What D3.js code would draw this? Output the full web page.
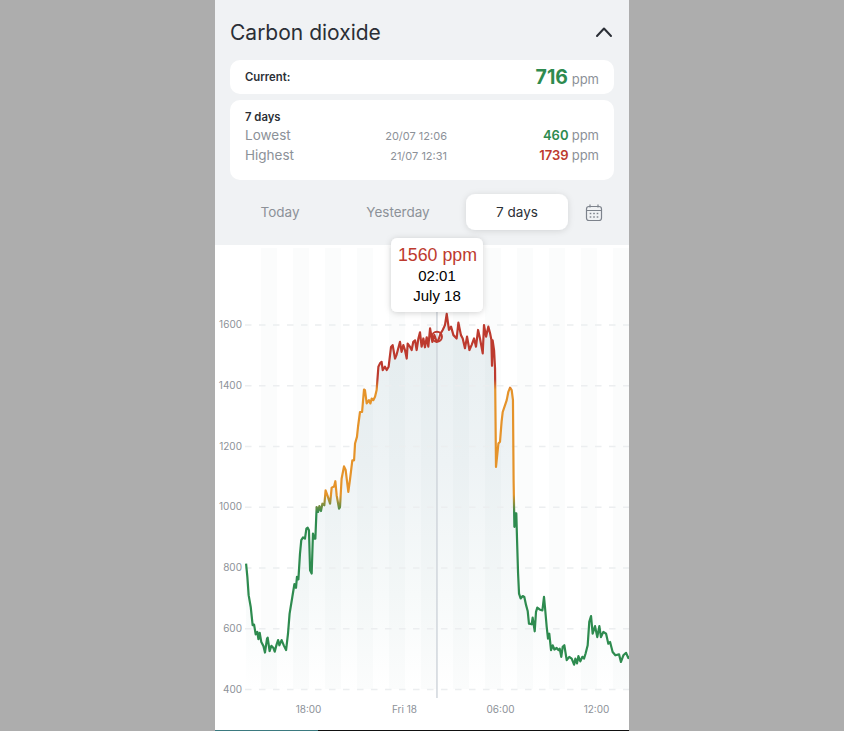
<!DOCTYPE html>
<html><head><meta charset="utf-8">
<script src="https://cdn.jsdelivr.net/npm/d3@7"></script>
<style>html,body{margin:0;padding:0;background:#adadad;overflow:hidden}svg{display:block}text{font-family:Inter,"Noto Sans",sans-serif}</style>
</head><body><svg id="c" width="844" height="731"></svg>
<script>
// hours counted from Thu 00:00 (24 = Fri 18 00:00)
const hours=[14.13,14.21,14.29,14.42,14.54,14.63,14.73,14.83,14.90,14.98,15.08,15.21,15.31,15.44,15.48,15.60,15.71,15.83,15.92,16.04,16.13,16.21,16.35,16.50,16.63,16.75,16.85,17.02,17.15,17.25,17.31,17.40,17.50,17.58,17.69,17.81,17.90,17.98,18.06,18.13,18.23,18.31,18.38,18.46,18.54,18.63,18.71,18.81,18.90,19.02,19.10,19.23,19.38,19.48,19.63,19.71,19.79,19.94,20.00,20.10,20.25,20.35,20.52,20.63,20.77,20.88,20.94,21.06,21.13,21.25,21.38,21.50,21.56,21.67,21.81,21.90,21.98,22.08,22.19,22.29,22.40,22.50,22.60,22.67,22.81,22.92,23.04,23.19,23.29,23.44,23.54,23.75,23.85,23.96,24.06,24.17,24.23,24.38,24.48,24.58,24.69,24.79,24.90,25.00,25.10,25.21,25.31,25.42,25.52,25.63,25.77,25.90,26.04,26.15,26.29,26.42,26.56,26.67,26.81,26.94,27.09,27.29,27.40,27.56,27.67,27.81,27.94,28.09,28.23,28.38,28.50,28.63,28.75,28.92,29.00,29.13,29.27,29.38,29.46,29.50,29.54,29.63,29.69,29.75,29.90,30.00,30.10,30.17,30.31,30.42,30.52,30.63,30.73,30.81,30.85,30.90,30.96,31.02,31.06,31.13,31.19,31.29,31.42,31.52,31.63,31.73,31.81,31.98,32.04,32.17,32.25,32.33,32.50,32.65,32.75,32.81,32.92,33.00,33.08,33.19,33.29,33.40,33.54,33.65,33.73,33.83,33.92,34.02,34.17,34.33,34.48,34.63,34.71,34.81,34.90,35.02,35.15,35.25,35.35,35.48,35.58,35.69,35.79,35.94,36.08,36.21,36.31,36.46,36.63,36.77,36.88,37.04,37.21,37.44,37.56,37.71,37.88,38.02,38.13];
const ppm=[813,769,709,670,610,612,580,588,564,585,555,542,520,566,569,525,542,536,523,547,561,544,561,542,528,582,648,703,745,733,769,761,846,890,899,895,928,931,923,791,780,912,895,895,999,983,1002,986,1010,1005,1054,1035,1010,1063,1067,1084,1038,994,999,1092,1133,1122,1049,1092,1153,1153,1208,1230,1265,1312,1312,1386,1384,1340,1351,1340,1356,1351,1362,1384,1461,1472,1477,1450,1461,1450,1461,1526,1532,1488,1501,1543,1510,1532,1516,1488,1537,1526,1516,1543,1548,1516,1554,1574,1527,1554,1525,1558,1527,1587,1543,1565,1543,1549,1571,1582,1598,1635,1582,1593,1565,1554,1606,1565,1554,1522,1560,1516,1533,1554,1527,1582,1554,1505,1598,1560,1593,1571,1550,1464,1548,1515,1455,1131,1208,1214,1280,1312,1334,1351,1378,1392,1384,1351,1087,934,978,978,901,780,714,698,706,703,676,657,615,613,635,590,654,668,661,659,703,670,604,566,582,528,544,530,535,528,533,506,539,544,495,506,500,480,500,484,508,491,506,500,517,544,621,640,582,607,571,607,571,588,582,549,555,522,511,514,489,511,519,502,508];
const yTicks=[400,600,800,1000,1200,1400,1600];
const xTicks=[18,24,30,36];
const xTickLabels=["18:00","Fri 18","06:00","12:00"];
const stripeStarts=[15.06,17.06,19.06,21.06,23.06,25.06,27.06,29.06,31.06,33.06,35.06,37.06];
const cursorHour=26.06, cursorPpm=1560;
const tooltipLines=["1560 ppm","02:01","July 18"];
const lowRow=["Lowest","20/07 12:06","460"], highRow=["Highest","21/07 12:31","1739"];
const tabs=["Today","Yesterday","7 days"];

const GREEN="#2e8b4f",ORANGE="#e5932a",RED="#bd3a2e",GREY="#8c9198",INK="#2b2f36";
const svg=d3.select("#c");
const x=d3.scaleLinear().domain([18,36]).range([308,596]);
const y=d3.scaleLinear().domain([400,1600]).range([689,324.5]);
const defs=svg.append("defs");
const shadow=(id,dy,sd,op)=>defs.append("filter").attr("id",id).attr("x","-30%").attr("y","-30%").attr("width","160%").attr("height","170%")
 .append("feDropShadow").attr("dx",0).attr("dy",dy).attr("stdDeviation",sd).attr("flood-color","#000").attr("flood-opacity",op);
shadow("sh1",1,3,.18);shadow("sh2",1,3,.13);
const lg=defs.append("linearGradient").attr("id","lineG").attr("gradientUnits","userSpaceOnUse").attr("x1",0).attr("x2",0).attr("y1",y(400)).attr("y2",y(1600));
[[980,GREEN],[1040,ORANGE],[1385,ORANGE],[1420,RED]].forEach(([v,c])=>lg.append("stop").attr("offset",(v-400)/1200).attr("stop-color",c));
const ag=defs.append("linearGradient").attr("id","areaG").attr("gradientUnits","userSpaceOnUse").attr("x1",0).attr("x2",0).attr("y1",y(1640)).attr("y2",y(400));
ag.append("stop").attr("offset",0).attr("stop-color","#e8eff1");ag.append("stop").attr("offset",.4).attr("stop-color","#eef3f5");ag.append("stop").attr("offset",.75).attr("stop-color","#f7fafa");ag.append("stop").attr("offset",1).attr("stop-color","#ffffff");
defs.append("clipPath").attr("id","plotClip").append("rect").attr("x",215).attr("y",245).attr("width",414).attr("height",486);

// panels
svg.append("rect").attr("x",215).attr("y",0).attr("width",414).attr("height",245).attr("fill","#f0f2f4");
svg.append("rect").attr("x",215).attr("y",245).attr("width",414).attr("height",486).attr("fill","#fff");
svg.append("rect").attr("x",215).attr("y",730).attr("width",103).attr("height",1).attr("fill","#3b7a80");
svg.append("rect").attr("x",318).attr("y",730).attr("width",311).attr("height",1).attr("fill","#111");

const t=(s,px,py,size,fill,anchor="start",weight=400,family)=>{const n=svg.append("text").attr("x",px).attr("y",py).attr("font-size",size).attr("fill",fill).attr("text-anchor",anchor).attr("font-weight",weight).text(s);if(family)n.style("font-family",family);return n;};
t("Carbon dioxide",230,40,21,INK);
svg.append("path").attr("d","M597 36L604 28.5L611 36").attr("fill","none").attr("stroke",INK).attr("stroke-width",2).attr("stroke-linecap","round").attr("stroke-linejoin","round");
[[60,34],[100,80]].forEach(([yy,h])=>svg.append("rect").attr("x",230).attr("y",yy).attr("width",384).attr("height",h).attr("rx",10).attr("fill","#fff"));
t("Current:",245,81,11.3,INK,"start",600);
t("716",568,84,19.5,GREEN,"end",700);
t("ppm",599,84,13,GREY,"end");
t("7 days",245,120.5,11.3,INK,"start",600);
[[lowRow,140,GREEN],[highRow,160,RED]].forEach(([r,py,c])=>{
 t(r[0],245,py,13.5,GREY);
 t(r[1],447,py-.5,11,GREY,"end");
 t(r[2],568.5,py,13,c,"end",600);
 t("ppm",599,py,13,GREY,"end");
});
svg.append("rect").attr("x",466).attr("y",194).attr("width",102).attr("height",36).attr("rx",9).attr("fill","#fff").attr("filter","url(#sh2)");
[[280,GREY],[398,GREY],[517,INK]].forEach(([cx,c],i)=>t(tabs[i],cx,217,13.5,c,"middle"));
// calendar icon
const cal=svg.append("g").attr("fill","none").attr("stroke","#7d838c").attr("stroke-width",1.2);
cal.append("rect").attr("x",586.5).attr("y",206.5).attr("width",15).attr("height",14).attr("rx",2.5);
cal.append("path").attr("d","M586.5 210.5H601.5M590 204.5V207.5M598 204.5V207.5");
[213.5,217].forEach(cy=>[590.5,594,597.5].forEach(cx=>svg.append("rect").attr("x",cx-.8).attr("y",cy-.7).attr("width",1.6).attr("height",1.4).attr("fill","#7d838c")));

// chart
const pts=hours.map((h,i)=>({h,v:ppm[i]}));
const plot=svg.append("g").attr("clip-path","url(#plotClip)");
plot.append("path").datum(pts).attr("fill","url(#areaG)")
 .attr("d",d3.area().x(d=>x(d.h)).y0(y(400)).y1(d=>y(d.v)));
plot.selectAll("rect.st").data(stripeStarts).join("rect").attr("class","st")
 .attr("x",d=>x(d)).attr("width",d=>x(d+1)-x(d)).attr("y",248).attr("height",y(400)-248)
 .attr("fill","#5c7085").attr("fill-opacity",.024);
// grid + y labels
const gy=svg.append("g").attr("transform","translate(245,0)").call(d3.axisRight(y).tickValues(yTicks).tickSize(384).tickFormat(""));
gy.select(".domain").remove();
gy.selectAll("line").attr("stroke","#eceef0").attr("stroke-width",1.4).attr("stroke-dasharray","6.5 7.5");
const ly=svg.append("g").attr("transform","translate(242,0)").call(d3.axisLeft(y).tickValues(yTicks).tickSize(0).tickPadding(0).tickFormat(d3.format("d")));
ly.select(".domain").remove();
ly.selectAll("text").attr("fill",GREY).attr("font-size",10).style("font-family","Inter");
const lx=svg.append("g").attr("transform","translate(0,706)").call(d3.axisBottom(x).tickValues(xTicks).tickSize(0).tickPadding(0).tickFormat((d,i)=>xTickLabels[i]));
lx.select(".domain").remove();
lx.selectAll("text").attr("fill",GREY).attr("font-size",10).style("font-family","Inter");
// cursor
svg.append("line").attr("x1",x(cursorHour)).attr("x2",x(cursorHour)).attr("y1",312).attr("y2",698).attr("stroke","#cdd3d9").attr("stroke-width",1.4);
// line drawn above grid and cursor
svg.append("g").attr("clip-path","url(#plotClip)").append("path").datum(pts).attr("fill","none").attr("stroke","url(#lineG)").attr("stroke-width",2.2).attr("stroke-linejoin","round")
 .attr("d",d3.line().x(d=>x(d.h)).y(d=>y(d.v)));
svg.append("circle").attr("cx",x(cursorHour)).attr("cy",y(cursorPpm)).attr("r",5).attr("fill","none").attr("stroke",RED).attr("stroke-width",2);
// tooltip
svg.append("rect").attr("x",391).attr("y",238).attr("width",92).attr("height",74).attr("rx",6).attr("fill","#fff").attr("filter","url(#sh1)");
t(tooltipLines[0],437.5,261,17.8,RED,"middle",400,"Liberation Sans");
t(tooltipLines[1],437,281,15,"#000","middle",400,"Liberation Sans");
t(tooltipLines[2],437,301,15,"#000","middle",400,"Liberation Sans");
</script></body></html>
